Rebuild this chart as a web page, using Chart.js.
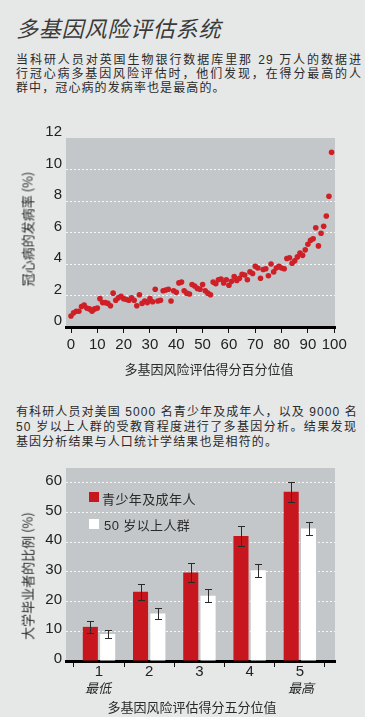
<!DOCTYPE html>
<html lang="zh-CN">
<head>
<meta charset="utf-8">
<script src="https://cdn.jsdelivr.net/npm/chart.js@4.4.1/dist/chart.umd.min.js"></script>
<style>
html, body { margin: 0; padding: 0; }
body {
    width: 365px; height: 722px; position: relative; overflow: hidden;
    background: #e6e7e7; color: #2a2a2a;
    font-family: "Liberation Sans", "Noto Sans CJK SC", sans-serif;
}
.abs { position: absolute; }
#title {
    left: 16px; top: 11px; font-size: 22px; font-style: italic; color: #3a3a3a;
    font-family: "Noto Sans CJK SC", sans-serif; line-height: 32px; letter-spacing: 0.8px;
}
.para { left: 16px; font-size: 12px; letter-spacing: 1.1px; }
.para div { white-space: nowrap; }
.para .full { text-align: justify; text-align-last: justify; }
.axis-title { font-size: 13px; white-space: nowrap; font-family: "Noto Sans CJK SC", sans-serif; color: #2a2a2a; }
.ytitle { transform: translate(-50%, -50%) rotate(-90deg); }
.xtitle { transform: translate(-50%, -50%); }
.sub { font-size: 13px; font-style: italic; transform: translate(-50%, -50%); font-family: "Noto Sans CJK SC", sans-serif; }
.leg-box { width: 10px; height: 10px; }
.leg-text { font-size: 13px; font-family: "Liberation Sans", "Noto Sans CJK SC", sans-serif; transform: translateY(-50%); white-space: nowrap; letter-spacing: 0.4px; }
</style>
</head>
<body>

<div id="title" class="abs">多基因风险评估系统</div>

<div class="abs para" style="top:53px;width:346px;line-height:14.2px;">
    <div class="full">当科研人员对英国生物银行数据库里那 29 万人的数据进</div>
    <div class="full">行冠心病多基因风险评估时，他们发现，在得分最高的人</div>
    <div>群中，冠心病的发病率也是最高的。</div>
</div>

<canvas id="scatterChart" class="abs" style="left:0;top:115px;" width="365" height="250"></canvas>
<div class="abs axis-title ytitle" style="left:27px;top:229px;">冠心病的发病率 (%)</div>
<div class="abs axis-title xtitle" style="left:209px;top:368px;">多基因风险评估得分百分位值</div>

<div class="abs para" style="top:405px;width:341px;line-height:14.8px;">
    <div class="full">有科研人员对美国 5000 名青少年及成年人，以及 9000 名</div>
    <div class="full">50 岁以上人群的受教育程度进行了多基因分析。结果发现</div>
    <div>基因分析结果与人口统计学结果也是相符的。</div>
</div>

<canvas id="barChart" class="abs" style="left:0;top:455px;" width="365" height="225"></canvas>
<div class="abs leg-box" style="left:89px;top:492px;background:#c8161e;"></div>
<div class="abs leg-text" style="left:102px;top:498px;">青少年及成年人</div>
<div class="abs leg-box" style="left:89px;top:519px;background:#ffffff;"></div>
<div class="abs leg-text" style="left:104px;top:524px;">50 岁以上人群</div>
<div class="abs sub" style="left:98px;top:687px;">最低</div>
<div class="abs sub" style="left:301px;top:687px;">最高</div>
<div class="abs axis-title ytitle" style="left:27px;top:576px;">大学毕业者的比例 (%)</div>
<div class="abs axis-title xtitle" style="left:192px;top:706px;">多基因风险评估得分五分位值</div>

<div class="abs" style="left:0;top:717px;width:365px;height:5px;background:#fff;"></div>

<script>
// coronary heart disease incidence (%) by polygenic score percentile (0..99)
const incidence = [
    0.7, 0.9, 1.0, 1.0, 1.3, 1.4, 1.2, 1.15, 1.0, 1.15,
    1.2, 1.8, 1.55, 1.55, 1.5, 1.35, 2.15, 1.7, 1.85, 1.95,
    1.8, 1.75, 1.7, 1.85, 1.7, 1.35, 2.05, 1.5, 1.65, 1.55,
    1.8, 1.6, 2.4, 1.65, 1.7, 2.3, 2.35, 2.4, 1.65, 2.3,
    2.2, 2.8, 2.85, 2.3, 2.15, 2.1, 2.7, 2.6, 2.45, 2.4,
    2.7, 2.3, 2.15, 2.05, 2.85, 2.75, 3.0, 3.05, 2.8, 3.0,
    2.65, 2.9, 3.2, 2.95, 3.1, 3.35, 3.3, 3.0, 3.5, 3.4,
    3.85, 3.75, 3.1, 3.65, 3.7, 3.25, 4.0, 3.5, 3.75, 3.85,
    3.75, 3.7, 4.35, 4.4, 4.05, 4.2, 4.45, 4.7, 4.55, 4.9,
    5.25, 5.5, 5.6, 6.3, 5.15, 5.95, 6.4, 7.05, 8.3, 11.1
];
const percentileTicks = [0, 10, 20, 30, 40, 50, 60, 70, 80, 90, 100];
const incidenceTicks = [0, 2, 4, 6, 8, 10, 12];

// college graduates (%) by polygenic score quintile
const quintiles = [1, 2, 3, 4, 5];
const youngRate = [11.5, 23.3, 29.8, 42.1, 57.0];
const youngErr = [2.0, 2.7, 3.1, 3.3, 3.3];
const olderRate = [9.1, 16.0, 22.0, 30.6, 44.6];
const olderErr = [1.4, 1.8, 2.1, 2.2, 2.2];
const gradTicks = [0, 10, 20, 30, 40, 50, 60];

const tickFont = { family: "'Liberation Sans', sans-serif", size: 15 };
const tickColor = '#222';
const plotGray = '#c4c7c9';
const gridWhite = 'rgba(255,255,255,0.85)';
const clear = 'rgba(0,0,0,0)';

// paints the gray plot area
const plotBackground = {
    id: 'plotBackground',
    beforeDraw: (chart) => {
        const { ctx, chartArea } = chart;
        ctx.save();
        ctx.fillStyle = plotGray;
        ctx.fillRect(chartArea.left, chartArea.top, chartArea.right - chartArea.left, chartArea.bottom - chartArea.top);
        ctx.restore();
    }
};

// error bars for the grouped bars
const errorBars = {
    id: 'errorBars',
    afterDatasetsDraw: (chart) => {
        const { ctx } = chart;
        const yScale = chart.scales.y;
        chart.data.datasets.forEach((ds, d) => {
            const meta = chart.getDatasetMeta(d);
            meta.data.forEach((bar, i) => {
                const v = ds.data[i].y;
                const e = ds.errors[i];
                const top = Math.round(yScale.getPixelForValue(v + e)) + 0.5;
                const bottom = Math.round(yScale.getPixelForValue(v - e)) + 0.5;
                const x = Math.round(bar.x) + 0.5;
                ctx.save();
                ctx.strokeStyle = '#2a2a2a';
                ctx.lineWidth = 1;
                ctx.beginPath();
                ctx.moveTo(x, top);
                ctx.lineTo(x, bottom);
                ctx.moveTo(x - 3.5, top);
                ctx.lineTo(x + 3.5, top);
                ctx.moveTo(x - 3.5, bottom);
                ctx.lineTo(x + 3.5, bottom);
                ctx.stroke();
                ctx.restore();
            });
        });
    }
};

new Chart(document.getElementById('scatterChart').getContext('2d'), {
    type: 'scatter',
    data: {
        datasets: [{
            data: incidence.map((v, i) => ({ x: i, y: v })),
            backgroundColor: '#cf1f27',
            borderWidth: 0,
            pointRadius: 2.8,
            pointHoverRadius: 2.8
        }]
    },
    options: {
        responsive: false,
        animation: false,
        layout: { padding: { top: 23, right: 30, left: 0, bottom: 0 } },
        plugins: { legend: { display: false }, tooltip: { enabled: false } },
        scales: {
            x: {
                type: 'linear',
                min: -1.9,
                max: 100.3,
                afterBuildTicks: (s) => { s.ticks = percentileTicks.map(v => ({ value: v })); },
                afterFit: (s) => { s.height = 38; },
                grid: { drawOnChartArea: false, tickLength: 6, tickColor: '#111', lineWidth: 1 },
                border: { color: '#000', width: 3 },
                ticks: { font: tickFont, color: tickColor, padding: 3, maxRotation: 0, autoSkip: false }
            },
            y: {
                min: 0,
                max: 12,
                afterBuildTicks: (s) => { s.ticks = incidenceTicks.map(v => ({ value: v })); },
                afterFit: (s) => { s.width = 66; },
                grid: {
                    color: (c) => (c.tick && c.tick.value > 0 && c.tick.value < 12) ? gridWhite : clear,
                    drawTicks: false,
                    lineWidth: 1
                },
                border: { display: false, dash: [2, 2] },
                ticks: { font: tickFont, color: tickColor, padding: 4, labelOffset: -6 }
            }
        }
    },
    plugins: [plotBackground]
});

// the half-step tick marks also count in the bar ruler, so the
// category width is measured on half a quintile: hence the >1 percentage
new Chart(document.getElementById('barChart').getContext('2d'), {
    type: 'bar',
    data: {
        datasets: [{
            label: '青少年及成年人',
            data: quintiles.map((q, i) => ({ x: q, y: youngRate[i] })),
            errors: youngErr,
            backgroundColor: '#c8161e',
            categoryPercentage: 1.38,
            barPercentage: 0.87
        }, {
            label: '50 岁以上人群',
            data: quintiles.map((q, i) => ({ x: q, y: olderRate[i] })),
            errors: olderErr,
            backgroundColor: '#ffffff',
            categoryPercentage: 1.38,
            barPercentage: 0.87
        }]
    },
    options: {
        responsive: false,
        animation: false,
        layout: { padding: { top: 8, right: 30, left: 0, bottom: 0 } },
        plugins: { legend: { display: false }, tooltip: { enabled: false } },
        scales: {
            x: {
                type: 'linear',
                offset: false,
                min: 0.343,
                max: 5.70,
                // labels on the quintiles, tick marks between them
                afterBuildTicks: (s) => {
                    const t = [{ value: quintiles[0] - 0.5 }];
                    quintiles.forEach(q => { t.push({ value: q }); t.push({ value: q + 0.5 }); });
                    s.ticks = t;
                },
                afterFit: (s) => { s.height = 19; },
                grid: {
                    offset: false,
                    drawOnChartArea: false,
                    tickLength: 6,
                    lineWidth: 1,
                    tickColor: (c) => (c.tick && !Number.isInteger(c.tick.value)) ? '#111' : clear
                },
                border: { color: '#000', width: 3 },
                ticks: {
                    font: tickFont, color: tickColor, padding: -4, maxRotation: 0, autoSkip: false,
                    callback: (v) => quintiles.includes(v) ? String(v) : ''
                }
            },
            y: {
                min: 0,
                max: 65,
                afterBuildTicks: (s) => { s.ticks = gradTicks.map(v => ({ value: v })); },
                afterFit: (s) => { s.width = 66; },
                grid: {
                    color: (c) => (c.tick && c.tick.value > 0) ? gridWhite : clear,
                    drawTicks: false,
                    lineWidth: 1
                },
                border: { display: false, dash: [2, 2] },
                ticks: { font: tickFont, color: tickColor, padding: 4, labelOffset: -2 }
            }
        }
    },
    plugins: [plotBackground, errorBars]
});
</script>
</body>
</html>
